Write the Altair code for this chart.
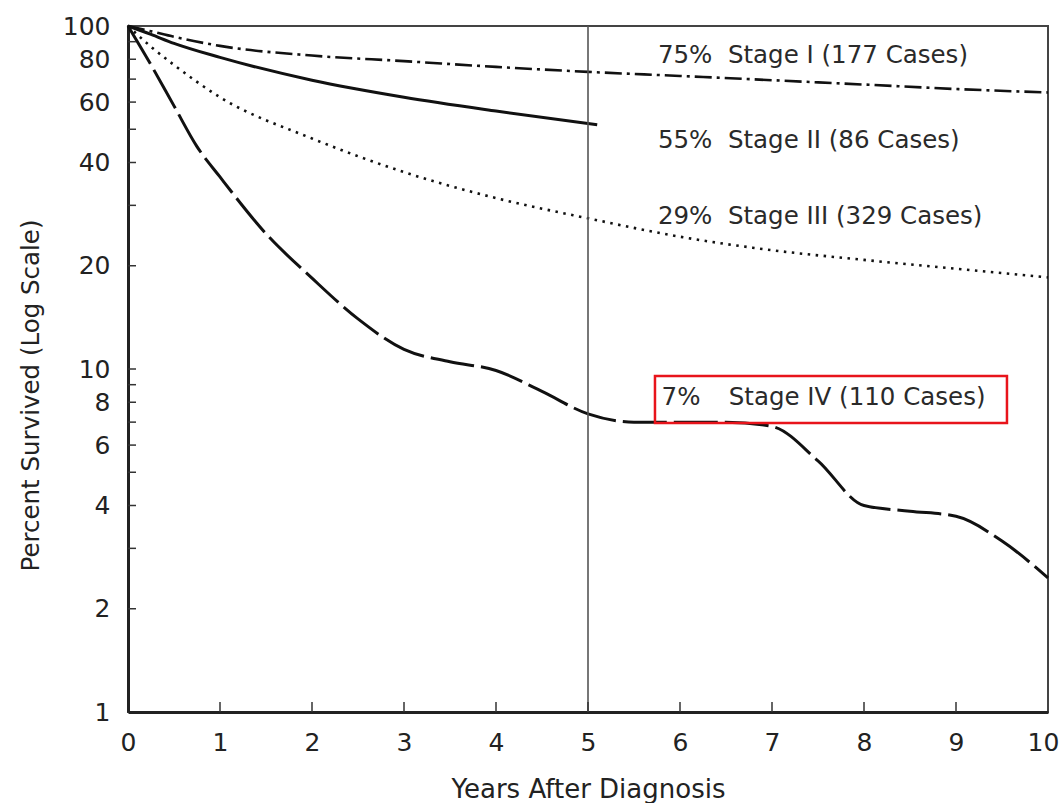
import altair as alt
import pandas as pd

FONT = "DejaVu Sans"
INK = "#111111"

# ---- data ----
years_I = [0, 0.25, 0.5, 1, 2, 3, 4, 5, 6, 7, 8, 9, 10]
surv_I = [100, 96.5, 93, 87.5, 82, 79, 76, 73.5, 71.5, 69.5, 67.5, 65.5, 64]

years_II = [0, 0.25, 0.5, 1, 2, 3, 4, 5.1]
surv_II = [100, 94.5, 89, 81, 69.5, 62, 56.5, 51.5]

years_III = [0, 0.25, 0.5, 1, 2, 3, 4, 5, 6, 7, 8, 9, 10]
surv_III = [100, 87, 77, 62, 47, 37.5, 31.5, 27.5, 24.3, 22.2, 20.8, 19.6, 18.5]

years_IV = [0, 0.25, 0.5, 0.75, 1, 1.5, 2, 2.5, 3, 3.5, 4, 4.5, 5, 5.5, 6, 6.5,
            7, 7.5, 8, 8.5, 9, 9.5, 10]
surv_IV = [100, 77, 58.5, 44.5, 36.3, 24.8, 18.4, 14.0, 11.4, 10.5, 9.9, 8.6, 7.4,
           7.0, 7.0, 7.0, 6.8, 5.4, 4.0, 3.85, 3.72, 3.15, 2.46]

y_label_values = [1, 2, 4, 6, 8, 10, 20, 40, 60, 80, 100]
y_tick_values = [2, 3, 4, 5, 6, 7, 8, 9, 10, 20, 30, 40, 50, 60, 70, 80, 90]
x_label_values = [0, 1, 2, 3, 4, 5, 6, 7, 8, 9, 10]
x_tick_values = [1, 2, 3, 4, 5, 6, 7, 8, 9]

ann_x = [5.76, 5.76, 5.76, 5.80, 6.53]
ann_y = [78.0, 44.1, 26.5, 7.85, 7.85]
ann_text = ["75%\u00a0\u00a0Stage I (177 Cases)", "55%\u00a0\u00a0Stage II (86 Cases)",
            "29%\u00a0\u00a0Stage III (329 Cases)", "7%", "Stage IV (110 Cases)"]

box_x = [5.728]
box_x2 = [9.554]
box_y = [9.54]
box_y2 = [6.96]

five_year = [5]

# ---- tables ----
dfI = pd.DataFrame({"year": years_I, "pct": surv_I})
dfII = pd.DataFrame({"year": years_II, "pct": surv_II})
dfIII = pd.DataFrame({"year": years_III, "pct": surv_III})
dfIV = pd.DataFrame({"year": years_IV, "pct": surv_IV})
df_ann = pd.DataFrame({"year": ann_x, "pct": ann_y, "label": ann_text})
df_box = pd.DataFrame({"x": box_x, "x2": box_x2, "y": box_y, "y2": box_y2})
df_five = pd.DataFrame({"year": five_year})
df_yt = pd.DataFrame({"pct": y_tick_values})
df_xt = pd.DataFrame({"year": x_tick_values})

xscale = alt.Scale(domain=[0, 10], nice=False, zero=False)
yscale = alt.Scale(type="log", domain=[1, 100], nice=False)

x_axis = alt.Axis(values=x_label_values, title="Years After Diagnosis", ticks=False,
                  tickSize=0, grid=False, labelPadding=38, labelBaseline="alphabetic",
                  labelFont=FONT, labelFontSize=25, labelColor="#222", format="d",
                  labelOverlap=False, labelFlush=False,
                  labelOffset={"condition": {"test": "datum.value == 10", "value": -5},
                               "value": 0},
                  titleFont=FONT, titleFontSize=26, titleFontWeight="normal",
                  titleColor="#222", titleBaseline="alphabetic", titleY=85,
                  domainWidth=3, domainColor="#222")
y_axis = alt.Axis(values=y_label_values, title="Percent Survived (Log Scale)",
                  ticks=False, tickSize=0, grid=False, labelPadding=18,
                  labelFont=FONT, labelFontSize=25, labelColor="#222",
                  labelOverlap=False, labelFlush=False, format="d",
                  titleFont=FONT, titleFontSize=24.5, titleFontWeight="normal",
                  titleColor="#222", titleBaseline="alphabetic", titleAngle=-90,
                  titleAlign="center", titleX=-90, titleY=369,
                  domainWidth=3, domainColor="#222")

X = alt.X("year:Q", scale=xscale, axis=x_axis)
Y = alt.Y("pct:Q", scale=yscale, axis=y_axis)

lineI = alt.Chart(dfI).mark_line(interpolate="monotone", color=INK, strokeWidth=2.6,
                                 strokeDash=[17, 5, 3, 5]).encode(x=X, y=Y)
lineII = alt.Chart(dfII).mark_line(interpolate="monotone", color=INK, strokeWidth=3
                                   ).encode(x="year:Q", y="pct:Q")
lineIII = alt.Chart(dfIII).mark_line(interpolate="monotone", color=INK, strokeWidth=2.6,
                                     strokeDash=[2.5, 5.5]).encode(x="year:Q", y="pct:Q")
lineIV = alt.Chart(dfIV).mark_line(interpolate="monotone", color=INK, strokeWidth=3,
                                   strokeDash=[44, 7]).encode(x="year:Q", y="pct:Q")

five = alt.Chart(df_five).mark_rule(color="#555", strokeWidth=1.6).encode(x="year:Q")

yticks = alt.Chart(df_yt).mark_rule(color="#333", strokeWidth=1.5).encode(
    y="pct:Q", x=alt.value(0), x2=alt.value(8))
xticks = alt.Chart(df_xt).mark_rule(color="#333", strokeWidth=1.5).encode(
    x="year:Q", y=alt.value(686), y2=alt.value(676))

ann = alt.Chart(df_ann).mark_text(align="left", baseline="alphabetic", font=FONT,
                                  fontSize=24.5, color="#2a2a2a").encode(
    x="year:Q", y="pct:Q", text="label:N")

box = alt.Chart(df_box).mark_rect(fillOpacity=0, stroke="#e8141b", strokeWidth=2.5).encode(
    x="x:Q", x2="x2:Q", y="y:Q", y2="y2:Q")

chart = alt.layer(lineI, lineII, lineIII, lineIV, five, yticks, xticks, ann, box).properties(
    width=920, height=686,
    autosize=alt.AutoSizeParams(type="none"),
    padding={"left": 128, "top": 26, "right": 12, "bottom": 91},
    background="white",
).configure_view(stroke="#444", strokeWidth=2)

chart.save("out.html", embed_options={"renderer": "svg", "actions": False})
